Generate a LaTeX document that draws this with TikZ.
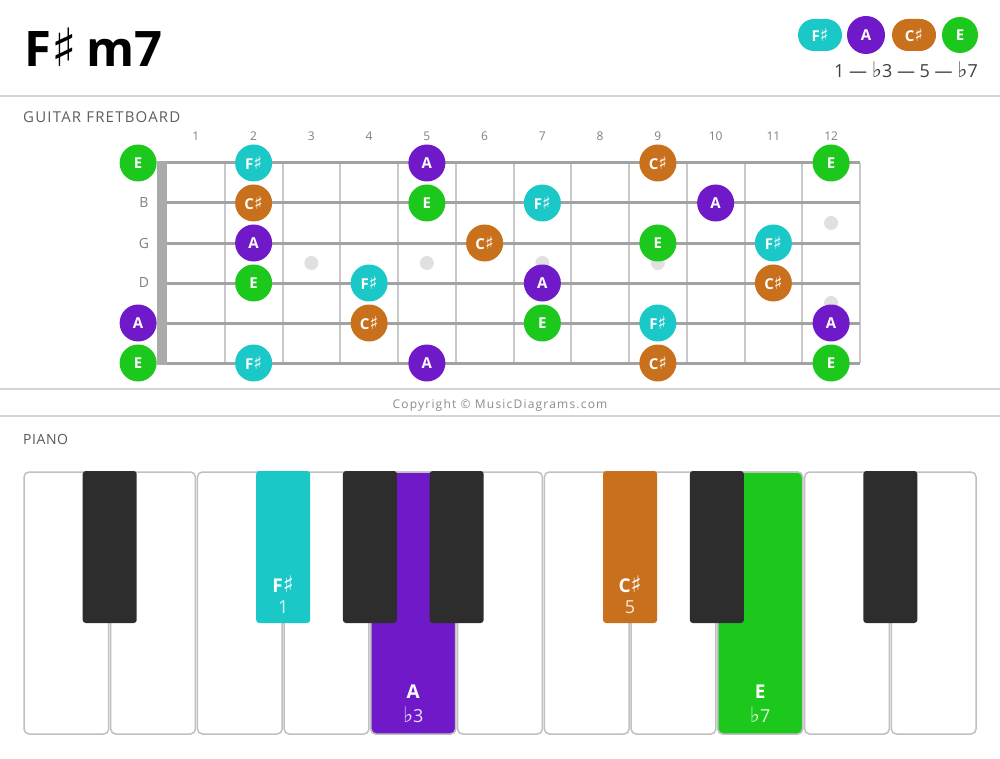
\documentclass[tikz,border=0pt]{standalone}
\usepackage{fontspec}
\setmainfont{Open Sans}
\newfontfamily\symfont[Scale=1.2]{DejaVu Sans}
\newcommand{\shrp}{{\symfont\char"266F}}
\newcommand{\flt}{{\symfont\char"266D}}

\definecolor{fsharp}{HTML}{1BC8C8}
\definecolor{anote}{HTML}{7019C8}
\definecolor{csharp}{HTML}{C8701B}
\definecolor{enote}{HTML}{1DC81D}
\definecolor{rulegray}{HTML}{D4D4D4}
\definecolor{stringgray}{HTML}{A2A2A2}
\definecolor{fretgray}{HTML}{C8C8C8}
\definecolor{nutgray}{HTML}{AAAAAA}
\definecolor{dotgray}{HTML}{E0E0E0}
\definecolor{keyedge}{HTML}{C0C0C0}
\definecolor{keyblack}{HTML}{2D2D2D}
\definecolor{labelgray}{HTML}{5E5E5E}

\begin{document}
\begin{tikzpicture}[x=1pt,y=-1pt,
		note/.style={circle, minimum size=37, inner sep=0, text=white, font=\fontsize{15}{15}\selectfont\bfseries},
		pill/.style={rounded corners=16, minimum width=44, minimum height=32, inner sep=0, text=white, font=\fontsize{15}{15}\selectfont\bfseries},
		fretnum/.style={text=gray, font=\fontsize{12}{12}\selectfont},
		strlabel/.style={text=gray, font=\fontsize{14}{14}\selectfont},
		section/.style={anchor=base west, inner sep=0, text=labelgray, font=\fontsize{15}{15}\selectfont\addfontfeature{LetterSpace=8}},
		keylabel/.style={text=white, font=\fontsize{19}{19}\selectfont\bfseries},
		keydeg/.style={text=white, text opacity=0.85, font=\fontsize{18}{18}\selectfont}]
		\useasboundingbox (0,0) rectangle (1000,759);
		\fill[white] (0,0) rectangle (1000,759);

		% title and chord tones
		\node[anchor=base west, inner sep=0, font=\fontsize{49}{49}\selectfont\bfseries] (title) at (24,67) {F{\fontsize{44}{44}\selectfont\shrp}\hspace{0.2em}m7};
		\node[pill, fill=fsharp] (hF) at (820,35) {F\shrp};
		\node[note, minimum size=38, fill=anote] (hA) at (866,35) {A};
		\node[pill, fill=csharp] (hC) at (914,35) {C\shrp};
		\node[note, minimum size=36, fill=enote] (hE) at (960,35) {E};
		\node[anchor=east, inner sep=0, text=black!75, font=\fontsize{18}{18}\selectfont] (degrees) at (978,70) {1 — \flt3 — 5 — \flt7};

		\draw[rulegray, line width=2] (0,96) -- (1000,96);
		\draw[rulegray, line width=2] (0,389) -- (1000,389);
		\draw[rulegray, line width=2] (0,416) -- (1000,416);

		% fretboard
		\node[section] (guitar) at (23,123) {GUITAR FRETBOARD};
		\foreach \n in {1,...,12}
			\node[fretnum] (fn\n) at ({167+57.75*(\n-0.5)},136) {\n};
		\foreach \n in {1,...,12}
			\draw[fretgray, line width=2] ({167+57.75*\n},163) -- ({167+57.75*\n},363);
		\foreach \f in {3,5,7,9}
			\fill[dotgray] ({167+57.75*(\f-0.5)},263) circle (7);
		\fill[dotgray] ({167+57.75*11.5},223) circle (7);
		\fill[dotgray] ({167+57.75*11.5},303) circle (7);
		\foreach \s in {0,...,5}
			\draw[stringgray, line width=3] (157,{163+40*\s}) -- (860,{163+40*\s});
		\fill[nutgray] (157,161) rectangle (167,365);

		\node[strlabel] (sB) at (144,203) {B};
		\node[strlabel] (sG) at (144,243) {G};
		\node[strlabel] (sD) at (144,283) {D};

		\foreach \s/\f/\t/\c in {
				0/0/E/enote, 0/2/F\shrp/fsharp, 0/5/A/anote, 0/9/C\shrp/csharp, 0/12/E/enote,
				1/2/C\shrp/csharp, 1/5/E/enote, 1/7/F\shrp/fsharp, 1/10/A/anote,
				2/2/A/anote, 2/6/C\shrp/csharp, 2/9/E/enote, 2/11/F\shrp/fsharp,
				3/2/E/enote, 3/4/F\shrp/fsharp, 3/7/A/anote, 3/11/C\shrp/csharp,
				4/0/A/anote, 4/4/C\shrp/csharp, 4/7/E/enote, 4/9/F\shrp/fsharp, 4/12/A/anote,
				5/0/E/enote, 5/2/F\shrp/fsharp, 5/5/A/anote, 5/9/C\shrp/csharp, 5/12/E/enote}
			\node[note, fill=\c] (n\s-\f) at ({167+57.75*(\f-0.5)},{163+40*\s}) {\t};

		\node[text=black!45, font=\fontsize{12}{12}\selectfont\addfontfeature{LetterSpace=10}] (copy) at (500,405) {Copyright © MusicDiagrams.com};

		% piano
		\node[section, text=black!65, font=\fontsize{14}{14}\selectfont\addfontfeature{LetterSpace=4}] (piano) at (23,444) {PIANO};
		\foreach \k in {0,...,10}
			\draw[keyedge, line width=1.5, fill=white, rounded corners=5] ({23+86.73*\k+1},472) rectangle ({23+86.73*(\k+1)-1},734);
		\draw[keyedge, line width=1.5, fill=anote, rounded corners=5] ({23+86.73*4+1},472) rectangle ({23+86.73*5-1},734);
		\draw[keyedge, line width=1.5, fill=enote, rounded corners=5] ({23+86.73*8+1},472) rectangle ({23+86.73*9-1},734);
		\foreach \k/\c in {1/keyblack, 3/fsharp, 4/keyblack, 5/keyblack, 7/csharp, 8/keyblack, 10/keyblack}
			\fill[\c, rounded corners=3] ({23+86.73*\k-27},471) rectangle ({23+86.73*\k+27},623);

		\node[keylabel] (kF) at ({23+86.73*3},584) {F\shrp};
		\node[keydeg] (kF1) at ({23+86.73*3},607) {1};
		\node[keylabel] (kC) at ({23+86.73*7},584) {C\shrp};
		\node[keydeg] (kC5) at ({23+86.73*7},607) {5};
		\node[keylabel] (kA) at ({23+86.73*4.5},692) {A};
		\node[keydeg] (kA3) at ({23+86.73*4.5},715) {\flt3};
		\node[keylabel] (kE) at ({23+86.73*8.5},692) {E};
		\node[keydeg] (kE7) at ({23+86.73*8.5},715) {\flt7};
	\end{tikzpicture}
\end{document}
